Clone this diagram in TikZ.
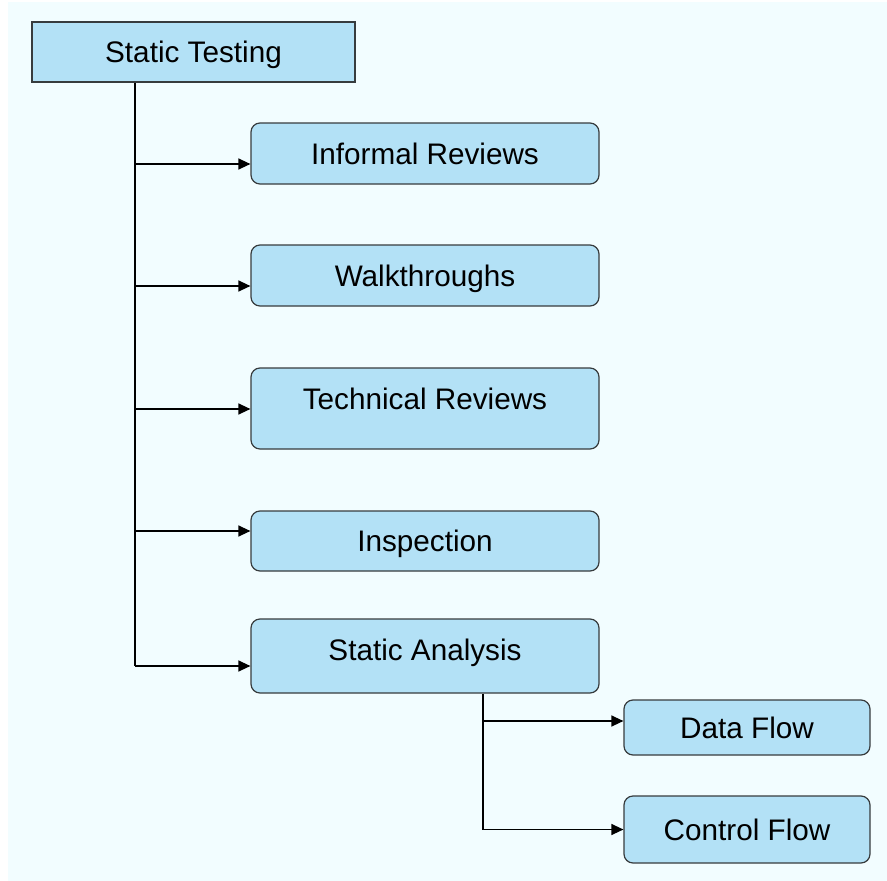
\documentclass[tikz,border=0pt]{standalone}
\usepackage{fontspec}
\setmainfont{Liberation Sans}
\usetikzlibrary{arrows.meta}
\definecolor{bgcol}{RGB}{242,253,255}
\definecolor{boxcol}{RGB}{179,225,246}
\definecolor{edgecol}{RGB}{55,60,62}
\begin{document}
\begin{tikzpicture}[x=1pt,y=-1pt]
  \tikzset{block/.style={shape=rectangle,text centered,rounded corners=9pt,draw=edgecol,line width=1.2pt,fill=boxcol,inner sep=0pt,minimum width=348pt,text height=21pt,text depth=0pt,font=\fontsize{29.7}{34}\selectfont}};
  \tikzset{link/.style={line width=1.3pt,draw=black},arr/.style={link,-{Triangle[length=12pt,width=11pt]}}};
  \useasboundingbox (0,0) rectangle (887,881);
  \fill[bgcol] (8,2) rectangle (887,881);
  \node[block,sharp corners,minimum width=323pt,minimum height=60pt](Root) at (193.5,52){Static Testing};
  \node[block,minimum height=61pt](Inf) at (425,153.5){Informal Reviews};
  \node[block,minimum height=61pt](Walk) at (425,275.5){Walkthroughs};
  \node[block,minimum height=81pt,text depth=20pt](Tech) at (425,408.5){Technical Reviews};
  \node[block,minimum height=60pt](Insp) at (425,541){Inspection};
  \node[block,minimum height=74pt,text depth=12pt](Ana) at (425,656){Static Analysis};
  \node[block,minimum width=246pt,minimum height=55pt](Data) at (747,727.5){Data Flow};
  \node[block,minimum width=246pt,minimum height=67pt](Ctrl) at (747,829.5){Control Flow};
  \coordinate (Trunk) at ([xshift=-58.5pt]Root.south);
  \coordinate (SubTrunk) at ([xshift=58pt]Ana.south);
  \coordinate (InfIn) at ([yshift=-10.5pt]Inf.west);
  \coordinate (WalkIn) at ([yshift=-10.5pt]Walk.west);
  \coordinate (TechIn) at ([yshift=-0.5pt]Tech.west);
  \coordinate (InspIn) at ([yshift=10pt]Insp.west);
  \coordinate (AnaIn) at ([yshift=-10pt]Ana.west);
  \coordinate (DataIn) at ([yshift=6.5pt]Data.west);
  \coordinate (CtrlIn) at (Ctrl.west);
  \draw[link] (Trunk) -- (Trunk |- AnaIn);
  \draw[link] (SubTrunk) -- (SubTrunk |- CtrlIn);
  \foreach \t in {InfIn,WalkIn,TechIn,InspIn,AnaIn}
    \draw[arr] (Trunk |- \t) -- (\t);
  \foreach \t in {DataIn,CtrlIn}
    \draw[arr] (SubTrunk |- \t) -- (\t);
\end{tikzpicture}
\end{document}
